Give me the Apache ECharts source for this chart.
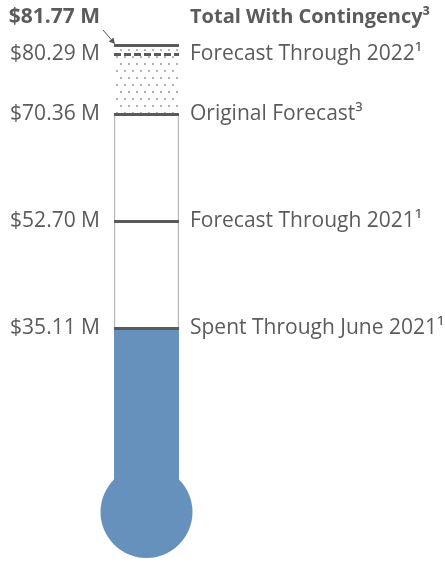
<!DOCTYPE html>
<html>
<head>
<meta charset="utf-8">
<script src="https://cdn.jsdelivr.net/npm/echarts@6/dist/echarts.min.js"></script>
<style>
html,body{margin:0;padding:0;background:#fff;}
#chart{width:445px;height:562px;}
</style>
</head>
<body>
<div id="chart"></div>
<script>
// ---- data ----
const categories = ['Project Budget'];
const milestoneValues = [81.77, 80.29, 70.36, 52.70, 35.11];
const milestoneNames = [
  'Total With Contingency³',
  'Forecast Through 2022¹',
  'Original Forecast³',
  'Forecast Through 2021¹',
  'Spent Through June 2021¹'
];
const totalWithContingency = [81.77];
const originalForecast = [70.36];
const spentToDate = [35.11];

// ---- style ----
const FONT = '"Open Sans"';
const FS = 21;
const TEXT = '#5b5b5b';
const BLUE = '#6791BD';
const LINE = '#5a5a5a';
const GRID_LEFT = 114, GRID_W = 65, GRID_TOP = 45, GRID_BOTTOM = 21;

const chart = echarts.init(document.getElementById('chart'), null, {renderer: 'canvas'});

const fmtMoney = v => '$' + Number(v).toFixed(2) + ' M';

const option = {
  animation: false,
  backgroundColor: '#fff',
  grid: {left: GRID_LEFT, width: GRID_W, top: GRID_TOP, bottom: GRID_BOTTOM},
  xAxis: {type: 'category', data: categories, show: false},
  yAxis: {
    type: 'value', min: 0, max: totalWithContingency[0],
    axisLine: {show: false}, axisTick: {show: false}, splitLine: {show: false},
    axisLabel: {
      customValues: milestoneValues,
      margin: 14,
      fontFamily: FONT, fontSize: FS, color: TEXT,
      formatter: v => (Math.abs(v - totalWithContingency[0]) < 1e-6 ? '{top|' + fmtMoney(v) + '}' : fmtMoney(v)),
      rich: {top: {fontFamily: FONT, fontSize: FS, fontWeight: 'bold', color: TEXT, padding: [0, 0, 56, 0]}}
    }
  },
  series: [
    { // tube
      type: 'bar', data: totalWithContingency, barWidth: '100%', barGap: '-100%',
      itemStyle: {color: '#fff', borderColor: '#b8b8b8', borderWidth: 1.2},
      silent: true, z: 1
    },
    { // base for dotted region
      type: 'bar', stack: 'dots', data: originalForecast, barWidth: '100%',
      itemStyle: {color: 'transparent'}, silent: true, z: 2
    },
    { // dotted contingency region
      type: 'bar', stack: 'dots',
      data: totalWithContingency.map((t, i) => t - originalForecast[i]),
      barWidth: '100%',
      itemStyle: {
        color: '#fff',
        decal: {symbol: 'circle', symbolSize: 1, color: '#9a9a9a',
                dashArrayX: [[2, 6], [0, 4, 2, 2]], dashArrayY: [2, 5], rotation: 0}
      },
      silent: true, z: 2
    },
    { // spent
      type: 'bar', data: spentToDate, barWidth: '100%', barGap: '-100%',
      itemStyle: {color: BLUE, opacity: 1}, silent: true, z: 3
    },
    { // bulb + milestone lines
      type: 'scatter', data: [0], symbol: 'circle', symbolSize: 92, symbolOffset: [0, -29],
      itemStyle: {color: BLUE, opacity: 1}, clip: false, silent: true, z: 4,
      markLine: {
        silent: true, symbol: ['none', 'none'],
        lineStyle: {color: LINE, width: 3, type: 'solid'},
        label: {
          show: true, position: 'end', distance: 11, formatter: '{b}',
          fontFamily: FONT, fontSize: FS, color: TEXT
        },
        data: milestoneValues.map((v, i) => {
          const d = {yAxis: v, name: milestoneNames[i]};
          if (i === 1) d.lineStyle = {type: [7, 3], color: LINE, width: 3};
          if (i === 0) d.label = {
            formatter: '{t|{b}}',
            rich: {t: {fontFamily: FONT, fontSize: 20, fontWeight: 'bold', color: TEXT, padding: [0, 0, 56, 0]}}
          };
          return d;
        })
      }
    }
  ]
};
chart.setOption(option);

// annotation arrow pointing at the tube's top-left corner
const topPt = chart.convertToPixel({xAxisIndex: 0, yAxisIndex: 0}, [0, totalWithContingency[0]]);
const tipX = GRID_LEFT + 1, tipY = topPt[1] - 1;
const sx = tipX - 12, sy = tipY - 14;
const ang = Math.atan2(tipY - sy, tipX - sx);
const ah = 6, aw = 3;
const bx = tipX - ah * Math.cos(ang), by = tipY - ah * Math.sin(ang);
chart.setOption({
  graphic: [
    {type: 'line', shape: {x1: sx, y1: sy, x2: bx, y2: by}, style: {stroke: '#555', lineWidth: 1}, silent: true},
    {type: 'polygon', shape: {points: [
      [tipX, tipY],
      [bx + aw * Math.sin(ang), by - aw * Math.cos(ang)],
      [bx - aw * Math.sin(ang), by + aw * Math.cos(ang)]
    ]}, style: {fill: '#555'}, silent: true}
  ]
});
</script>
</body>
</html>
